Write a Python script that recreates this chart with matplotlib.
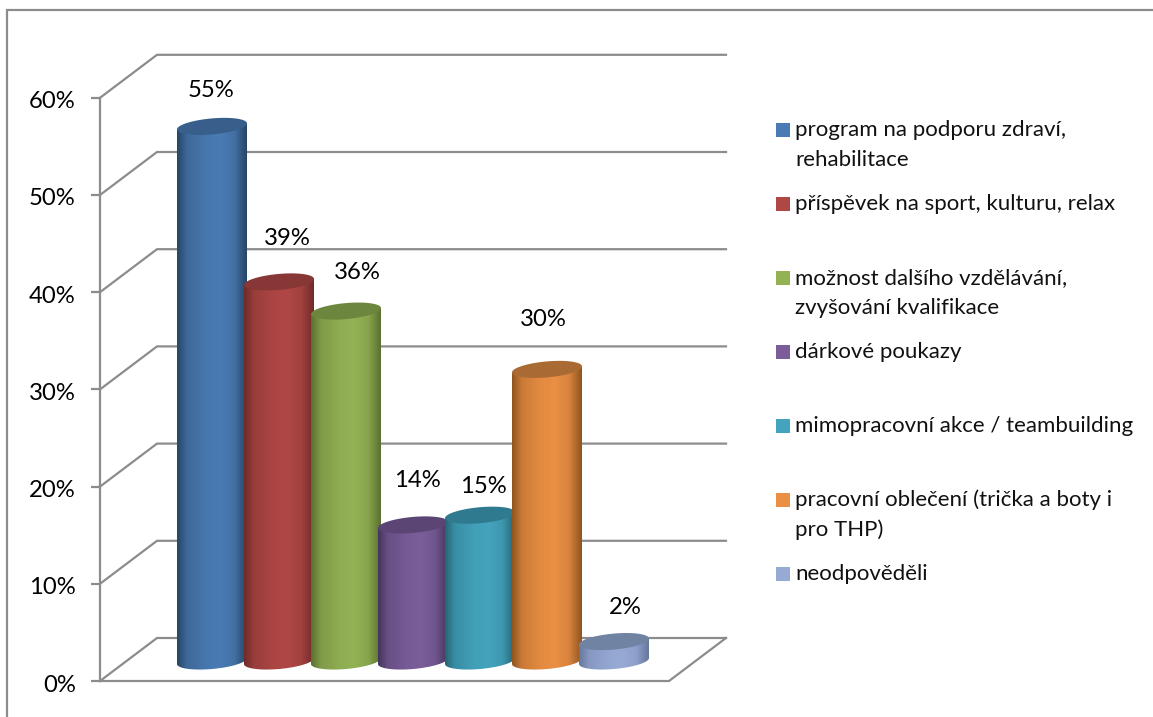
import numpy as np
import matplotlib
matplotlib.use('Agg')
import matplotlib.pyplot as plt
from matplotlib.colors import LinearSegmentedColormap, to_rgb
from matplotlib.lines import Line2D
from matplotlib.patches import PathPatch, Polygon, Rectangle
from matplotlib.path import Path
from matplotlib.ticker import PercentFormatter
from matplotlib.transforms import Affine2D

plt.rcParams['font.family'] = ['Lato', 'DejaVu Sans']

# Data
categories = ['program na podporu zdraví,\nrehabilitace',
              'příspěvek na sport, kulturu, relax',
              'možnost dalšího vzdělávání,\nzvyšování kvalifikace',
              'dárkové poukazy',
              'mimopracovní akce / teambuilding',
              'pracovní oblečení (trička a boty i\npro THP)',
              'neodpověděli']
values = [55, 39, 36, 14, 15, 30, 2]
yticks = [0, 10, 20, 30, 40, 50, 60]

# Colours: front, edge of the cylinder, top cap
base_colors = ['#4a7bb4', '#af4745', '#93b254', '#7a5d9a', '#44a4bd', '#ea8f44', '#97aad6']
edge_colors = ['#274566', '#702b29', '#5a7030', '#46355c', '#256575', '#8f5420', '#66779c']
cap_colors = ['#385e8b', '#873735', '#6c863d', '#5a4574', '#2f7a8e', '#a96a33', '#7083a3']

# Where each value label sits relative to the cylinder top (pixels)
label_offsets = [(-1, 36), (8, 43), (11, 39), (4, 44), (3, 29), (-4, 50), (11, 34)]

W, H = 1153, 717
GRID = '#8c8c8c'

# Plot box in pixels
left_px, right_px = 100, 726
zero_px, top_px = 681, 54
per_pct = 9.72   # px for 1%
per_cat = 67.0   # px between cylinders
first_px = 212

fig = plt.figure(figsize=(W / 100, H / 100), dpi=100)
ax = fig.add_axes([left_px / W, 1 - zero_px / H, (right_px - left_px) / W, (zero_px - top_px) / H])
ax.set_xlim((left_px - first_px) / per_cat, (right_px - first_px) / per_cat)
ax.set_ylim(0, (zero_px - top_px) / per_pct)
ax.patch.set_visible(False)

# px -> figure helper for frame and legend
px = Affine2D().scale(1 / W, -1 / H).translate(0, 1) + fig.transFigure
# Only the top and left edges of the frame show, the rest is cropped away
fig.add_artist(Line2D([6.5, 6.5, W], [H, 10, 10], transform=px, color=GRID, lw=1.6,
                      solid_joinstyle='miter'))

# Depth of the 3D box in data units
depth_x = 57 / per_cat
depth_y = 43 / per_pct
x0, x1 = ax.get_xlim()
front_right = x1 - depth_x

# Walls
for t in yticks:
    ax.plot([x0, x0 + depth_x, x1], [t, t + depth_y, t + depth_y], color=GRID, lw=1.6, zorder=1,
            clip_on=False, solid_joinstyle='miter')
ax.plot([x0, front_right, x1], [0, 0, depth_y], color=GRID, lw=1.6, zorder=1, clip_on=False)

for name in ['top', 'right', 'bottom']:
    ax.spines[name].set_visible(False)
ax.spines['left'].set_bounds(0, 60)
ax.spines['left'].set_color(GRID)
ax.spines['left'].set_linewidth(1.6)
ax.set_xticks([])
ax.set_yticks(yticks)
ax.yaxis.set_major_formatter(PercentFormatter(decimals=0))
ax.tick_params(axis='y', length=6.5, width=1.6, color=GRID, labelsize=17.2, pad=11)
for lab in ax.get_yticklabels():
    lab.set_transform(lab.get_transform() + Affine2D().translate(0, -2))


def blend(c1, c2, f):
    a, b = np.array(to_rgb(c1)), np.array(to_rgb(c2))
    return tuple(a + (b - a) * f)


# Cylinders
hw = 35 / per_cat
cap_h = 8 / per_pct
tilt = 3 / per_pct
floor = 20 / per_pct
theta = np.linspace(0, 2 * np.pi, 121)
for i, v in enumerate(values):
    z = 5 + i
    top = floor + v
    bottom_t = theta[60:]
    xb = i + hw * np.cos(bottom_t)
    yb = floor + cap_h * np.sin(bottom_t) + tilt * np.cos(bottom_t)
    xs = np.concatenate([xb, [i + hw, i - hw]])
    ys = np.concatenate([yb, [top + tilt, top - tilt]])
    body = PathPatch(Path(np.column_stack([xs, ys])), transform=ax.transData, fc='none', ec='none')
    ax.add_patch(body)
    e, b = edge_colors[i], base_colors[i]
    cmap = LinearSegmentedColormap.from_list('c', [(0, e), (0.14, blend(e, b, 0.65)),
                                                   (0.42, blend(e, b, 0.93)), (0.62, b),
                                                   (0.82, blend(e, b, 0.8)), (1, e)])
    img = ax.imshow(np.linspace(0, 1, 256).reshape(1, -1), cmap=cmap, aspect='auto',
                    extent=(i - hw, i + hw, floor - 2, top + 2), zorder=z, interpolation='bilinear')
    img.set_clip_path(body)
    cap = Polygon(np.column_stack([i + hw * np.cos(theta),
                                   top + cap_h * np.sin(theta) + tilt * np.cos(theta)]),
                  fc=cap_colors[i], ec='none', zorder=z + 0.5, clip_on=False)
    ax.add_patch(cap)
    ax.annotate(f'{v}%', (i, top), xytext=label_offsets[i], textcoords='offset pixels',
                ha='center', va='center', fontsize=17.2, color='black', zorder=20,
                annotation_clip=False)
ax.set_xlim(x0, x1)
ax.set_ylim(0, (zero_px - top_px) / per_pct)

# Legend, drawn by hand because of its even row pitch
for i, label in enumerate(categories):
    y = 130 + 74 * i
    fig.add_artist(Rectangle((776, y - 7), 14, 14, transform=px, fc=base_colors[i], ec='none'))
    for j, line in enumerate(label.split('\n')):
        fig.text(795, y + 30 * j, line, transform=px, ha='left', va='center', fontsize=16, color='#111111')

fig.savefig('out.png', dpi=100)
